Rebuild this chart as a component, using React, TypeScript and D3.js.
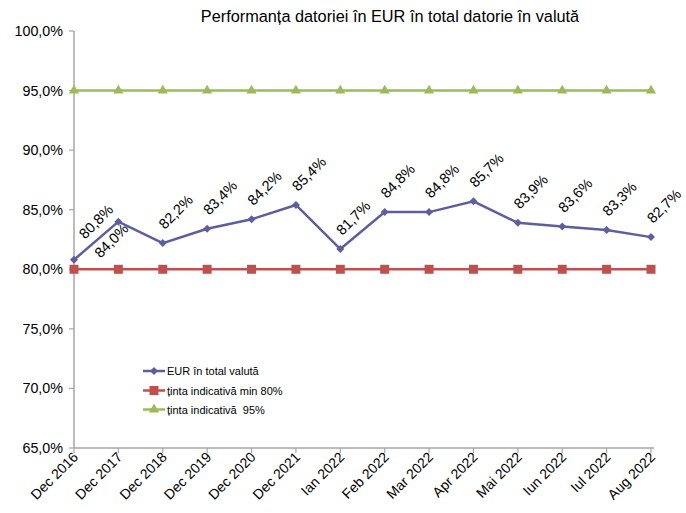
import React from "react";
import * as d3 from "d3";

const categories = ["Dec 2016","Dec 2017","Dec 2018","Dec 2019","Dec 2020","Dec 2021","Ian 2022","Feb 2022","Mar 2022","Apr 2022","Mai 2022","Iun 2022","Iul 2022","Aug 2022"];
const eurValues = [80.8,84.0,82.2,83.4,84.2,85.4,81.7,84.8,84.8,85.7,83.9,83.6,83.3,82.7];
const minTarget = [80,80,80,80,80,80,80,80,80,80,80,80,80,80];
const target95 = [95,95,95,95,95,95,95,95,95,95,95,95,95,95];
const yTicks = [65,70,75,80,85,90,95,100];
const seriesNames = ["EUR în total valută","ținta indicativă min 80%","ținta indicativă  95%"];
const title = "Performanța datoriei în EUR în total datorie în valută";

// label layout tweaks (manual placement like the original)
const labelShift: Record<number, [number, number]> = { 0: [9, -7], 1: [-20, 50] };

const W = 686, H = 513;
const M = { left: 74, right: 35, top: 31, bottom: 65 };
const FONT = "Arial, 'Liberation Sans', sans-serif";
const BLUE = "#5E5E9E", RED = "#C0504D", GREEN = "#9BBB59", AXIS = "#A6A6A6";

export default function App() {
  const x = d3.scalePoint<string>().domain(categories).range([M.left, W - M.right]);
  const y = d3.scaleLinear().domain([65, 100]).range([H - M.bottom, M.top]);
  const line = d3.line<number>().x((_, i) => x(categories[i])!).y(d => y(d));
  const fmt = (v: number) => v.toFixed(1).replace(".", ",") + "%";
  const triangle = d3.symbol().type(d3.symbolTriangle).size(45)()!;
  const diamond = (cx: number, cy: number, r: number) => `M${cx},${cy - r}L${cx + r},${cy}L${cx},${cy + r}L${cx - r},${cy}Z`;
  const y0 = y(65);

  const legendY = [371, 390.5, 409.5];

  return (
    <svg width={W} height={H} style={{ position: "absolute", left: 0, top: 0, fontFamily: FONT }}>
      <rect width={W} height={H} fill="#fff" />
      <text x={390} y={22} textAnchor="middle" fontSize={16.3} fill="#000">{title}</text>
      {/* y axis */}
      <line x1={M.left} x2={M.left} y1={M.top} y2={y0} stroke={AXIS} strokeWidth={1.5} />
      {yTicks.map(t => (
        <g key={t}>
          <line x1={M.left - 5} x2={M.left} y1={y(t)} y2={y(t)} stroke={AXIS} strokeWidth={1.2} />
          <text x={M.left - 11} y={y(t) + 5} textAnchor="end" fontSize={14.3} fill="#000">{fmt(t)}</text>
        </g>
      ))}
      {/* x axis */}
      <line x1={M.left} x2={W - M.right + 3} y1={y0} y2={y0} stroke={AXIS} strokeWidth={1.5} />
      {categories.map(c => (
        <g key={c}>
          <line x1={x(c)!} x2={x(c)!} y1={y0} y2={y0 + 5} stroke={AXIS} strokeWidth={1.2} />
          <text transform={`translate(${x(c)! + 5},${y0 + 10}) rotate(-45)`} textAnchor="end" fontSize={14} fill="#000">{c}</text>
        </g>
      ))}
      {/* green */}
      <path d={line(target95)!} fill="none" stroke={GREEN} strokeWidth={2.5} />
      {target95.map((v, i) => (
        <path key={i} d={triangle} transform={`translate(${x(categories[i])},${y(v)})`} fill={GREEN} />
      ))}
      {/* red */}
      <path d={line(minTarget)!} fill="none" stroke={RED} strokeWidth={2.5} />
      {minTarget.map((v, i) => (
        <rect key={i} x={x(categories[i])! - 4.5} y={y(v) - 4.5} width={9} height={9} fill={RED} />
      ))}
      {/* blue */}
      <path d={line(eurValues)!} fill="none" stroke={BLUE} strokeWidth={2.5} />
      {eurValues.map((v, i) => (
        <path key={i} d={diamond(x(categories[i])!, y(v), 4)} fill={BLUE} />
      ))}
      {eurValues.map((v, i) => {
        const [dx, dy] = labelShift[i] ?? [0, 0];
        const px = x(categories[i])! + 2 + dx, py = y(v) - 13 + dy;
        return (
          <text key={i} transform={`translate(${px},${py}) rotate(-45)`} fontSize={14.5} fill="#000">{fmt(v)}</text>
        );
      })}
      {/* legend */}
      {seriesNames.map((n, i) => {
        const ly = legendY[i];
        const col = [BLUE, RED, GREEN][i];
        return (
          <g key={n}>
            <line x1={143} x2={165} y1={ly} y2={ly} stroke={col} strokeWidth={2.5} />
            {i === 0 && <path d={diamond(154, ly, 4)} fill={col} />}
            {i === 1 && <rect x={149.5} y={ly - 4.5} width={9} height={9} fill={col} />}
            {i === 2 && <path d={triangle} transform={`translate(154,${ly})`} fill={col} />}
            <text x={167} y={ly + 4} fontSize={11} fill="#000" style={{ whiteSpace: "pre" }}>{n}</text>
          </g>
        );
      })}
    </svg>
  );
}
